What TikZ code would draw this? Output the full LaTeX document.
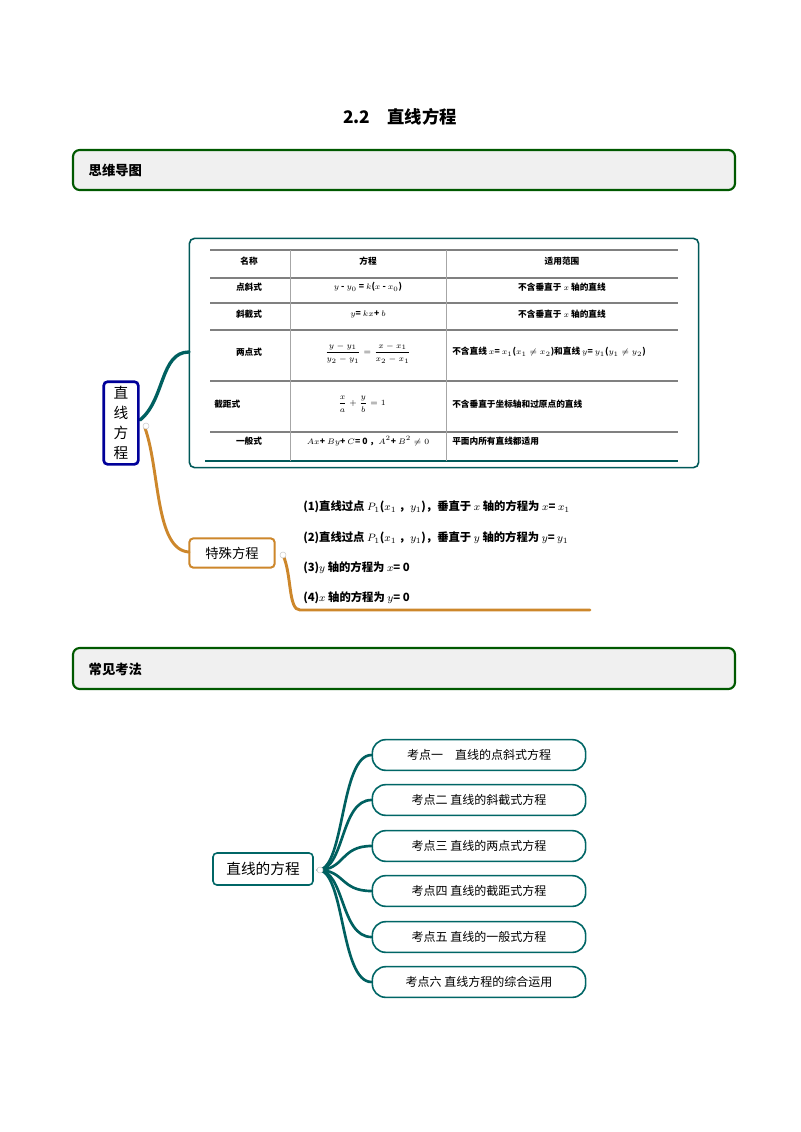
\documentclass[tikz,border=0pt]{standalone}
\usepackage{amsmath}
\usepackage{fontspec}
\setmainfont{Liberation Serif}
\newfontfamily\cjk{Noto Sans CJK SC}
\begin{document}
\begin{tikzpicture}[x=0.75pt,y=-0.75pt,
  hdr/.style={draw=green!35!black,line width=1.6pt,fill=gray!12,rounded corners=5pt},
  tl/.style={font=\cjk\bfseries\fontsize{6.5}{8}\selectfont,inner sep=0pt},
  sp/.style={font=\cjk\bfseries\fontsize{8.5}{10}\selectfont,anchor=west,inner sep=0pt},
  kbox/.style={draw=teal!80!black,line width=1.2pt,rounded corners=10pt,minimum width=160pt,minimum height=23pt,font=\cjk\fontsize{9}{11}\selectfont},
  tealb/.style={draw=teal!75!black,line width=2.5pt,line cap=round},
  goldb/.style={draw=yellow!55!red!80!black,line width=2.2pt,line cap=round}]
\useasboundingbox (0,0) rectangle (800,1132);
\fill[white] (0,0) rectangle (800,1132);
\node[font=\cjk\bfseries\fontsize{13}{15}\selectfont] (title) at (400,117) {2.2\quad 直线方程};
\draw[hdr] (73,150) rectangle (735,190);
\node[font=\cjk\bfseries\fontsize{10}{12}\selectfont,anchor=west] (h1) at (84,170) {思维导图};
\draw[hdr] (73,648) rectangle (735,689);
\node[font=\cjk\bfseries\fontsize{10}{12}\selectfont,anchor=west] (h2) at (84,669) {常见考法};
% table box
\node[draw=teal!70!black,line width=1.2pt,rounded corners=4pt,minimum width=382pt,minimum height=172pt] (tb) at (444,353) {};
\foreach \y in {250,278,303,330,381,432} \draw[gray,line width=0.8pt] (210,\y) -- (678,\y);
\draw[teal!70!black,line width=1.2pt] (205,461) -- (678,461);
\draw[gray!70] (290,250) -- (290,461); \draw[gray!70] (446,250) -- (446,461);
\node[tl] at (249,261) {名称}; \node[tl] at (368,261) {方程}; \node[tl] at (562,261) {适用范围};
\node[tl] at (249,287) {点斜式}; \node[tl] at (368,287) {$y$ - $y_0$ = $k$($x$ - $x_0$)}; \node[tl] at (562,287) {不含垂直于 $x$ 轴的直线};
\node[tl] at (249,314) {斜截式}; \node[tl] at (368,314) {$y$= $kx$+ $b$}; \node[tl] at (562,314) {不含垂直于 $x$ 轴的直线};
\node[tl] at (249,352) {两点式}; \node[tl] at (368,353) {$\dfrac{y-y_1}{y_2-y_1}=\dfrac{x-x_1}{x_2-x_1}$};
\node[tl,anchor=west] at (452,352) {不含直线 $x$= $x_1$($x_1\neq x_2$)和直线 $y$= $y_1$($y_1\neq y_2$)};
\node[tl,anchor=west] at (214,404) {截距式}; \node[tl] at (362,404) {$\dfrac{x}{a}+\dfrac{y}{b}=1$}; \node[tl,anchor=west] at (452,404) {不含垂直于坐标轴和过原点的直线};
\node[tl] at (249,441) {一般式}; \node[tl] at (368,441) {$Ax$+ $By$+ $C$= 0 ，$A^2$+ $B^2\neq 0$}; \node[tl,anchor=west] at (452,441) {平面内所有直线都适用};
% root
\draw[tealb] (140,420) .. controls (165,400) and (160,352) .. (189,352);
\draw[goldb] (145,428) .. controls (160,470) and (155,550) .. (189,552);
\node[draw=blue!60!black,line width=2pt,rounded corners=3pt,minimum width=26pt,minimum height=62pt,align=center,font=\cjk\fontsize{11}{15}\selectfont,fill=white] (root) at (121,423) {直\\线\\方\\程};
\fill[white,draw=gray!40] (146,426) circle (3);
\node[draw=yellow!55!red!80!black,line width=1.5pt,rounded corners=3pt,minimum width=64pt,minimum height=22pt,font=\cjk\fontsize{10}{12}\selectfont] (ts) at (232,553) {特殊方程};
\draw[goldb] (283,555) .. controls (292,575) and (288,610) .. (300,610) -- (590,610);
\fill[white,draw=gray!40] (283,555) circle (3);
\node[sp] at (303,507) {(1)直线过点 $P_1$($x_1$ ，$y_1$)，垂直于 $x$ 轴的方程为 $x$= $x_1$};
\node[sp] at (303,538) {(2)直线过点 $P_1$($x_1$ ，$y_1$)，垂直于 $y$ 轴的方程为 $y$= $y_1$};
\node[sp] at (303,568) {(3)$y$ 轴的方程为 $x$= 0};
\node[sp] at (303,598) {(4)$x$ 轴的方程为 $y$= 0};
% bottom map
\node[draw=teal!80!black,line width=1.2pt,rounded corners=3pt,minimum width=75pt,minimum height=24pt,font=\cjk\fontsize{11}{13}\selectfont] (m) at (263,869) {直线的方程};
\foreach \i/\y/\t in {1/755/考点一\quad 直线的点斜式方程,2/800/考点二\ 直线的斜截式方程,3/846/考点三\ 直线的两点式方程,4/891/考点四\ 直线的截距式方程,5/937/考点五\ 直线的一般式方程,6/982/考点六\ 直线方程的综合运用}{
  \node[kbox] (k\i) at (479,\y) {\t};
  \draw[tealb,line width=2pt] (318,870) .. controls (345,870) and (340,\y) .. (k\i.west);
}
\fill[white,draw=gray!40] (320,870) circle (3);
\end{tikzpicture}
\end{document}
